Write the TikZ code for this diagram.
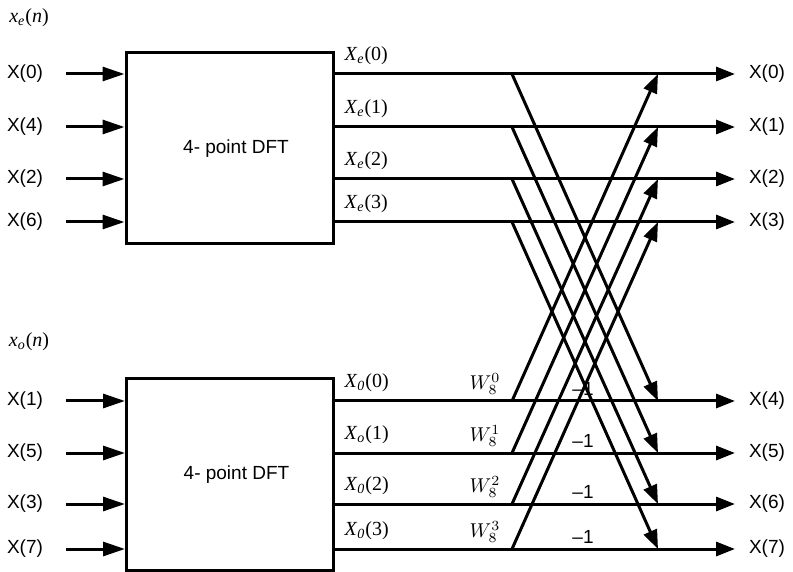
\documentclass[tikz,border=0pt]{standalone}
\usepackage{fontspec}
\setmainfont{Liberation Serif}
\setsansfont{Liberation Sans}
\usetikzlibrary{arrows.meta}
\newcommand{\xlab}[3]{\textit{#1}\textsubscript{\textit{#2}}(#3)}
\newcommand{\wlab}[1]{$W_{8}^{#1}$}

\begin{document}
\begin{tikzpicture}[x=0.5pt,y=-0.5pt,line width=1.5pt,
    arr/.style={-{Triangle[length=9.5pt,width=7pt]}},
    inarr/.style={-{Triangle[length=11pt,width=7pt]}},
    dftbox/.style={draw,minimum width=103.5pt,minimum height=95.5pt,
      font=\sffamily\fontsize{9.5}{11}\selectfont},
    sig/.style={font=\sffamily\fontsize{9.5}{11}\selectfont},
    lab/.style={font=\fontsize{10}{12}\selectfont,inner sep=1pt}]
  \useasboundingbox (0,0) rectangle (793,572);

  \node[dftbox] (dft1) at (229.5,148.5) {\hspace{6.5pt}4- point DFT};
  \node[dftbox] (dft2) at (230,474.5) {\hspace{6.5pt}4- point DFT};
  \node[lab] (xe) at (29,18) {\xlab{x}{e}{\textit{n}}};
  \node[lab] (xo) at (29,342) {\xlab{x}{o}{\textit{n}}};

  % even half
  \foreach \i/\y/\n in {0/74/0,1/127/4,2/179/2,3/222/6}{
    \node[sig] (ine\i) at (25,\y) {X(\n)};
    \coordinate (se\i) at (66,\y);
    \draw[inarr] (se\i) -- (se\i -| dft1.west);
    \coordinate (be\i) at (512,\y);
    \coordinate (ee\i) at (658,\y);
    \coordinate (te\i) at (735,\y);
    \draw[arr] (se\i -| dft1.east) -- (te\i);
    \node[sig] (oute\i) at (767,\y) {X(\i)};
  }
  \node[lab,anchor=south west] (le0) at (341,68) {\xlab{X}{e}{0}};
  \node[lab,anchor=south west] (le1) at (341,121) {\xlab{X}{e}{1}};
  \node[lab,anchor=south west] (le2) at (341,173) {\xlab{X}{e}{2}};
  \node[lab,anchor=south west] (le3) at (341,216) {\xlab{X}{e}{3}};

  % odd half
  \foreach \i/\y/\n/\k in {0/401/1/4,1/453/5/5,2/504/3/6,3/549/7/7}{
    \node[sig] (ino\i) at (25,\y) {X(\n)};
    \coordinate (so\i) at (66,\y);
    \draw[inarr] (so\i) -- (so\i -| dft2.west);
    \coordinate (bo\i) at (512,\y);
    \coordinate (eo\i) at (658,\y);
    \coordinate (to\i) at (735,\y);
    \draw[arr] (so\i -| dft2.east) -- (to\i);
    \node[sig] (outo\i) at (767,\y) {X(\k)};
    \node[lab] (w\i) at (485,\y-17) {\wlab{\i}};
    \node[sig] (m\i) at (583,\y-12) {–1};
  }
  \node[lab,anchor=south west] (lo0) at (341,395) {\xlab{X}{0}{0}};
  \node[lab,anchor=south west] (lo1) at (341,447) {\xlab{X}{o}{1}};
  \node[lab,anchor=south west] (lo2) at (341,498) {\xlab{X}{0}{2}};
  \node[lab,anchor=south west] (lo3) at (341,543) {\xlab{X}{0}{3}};

  % butterflies
  \foreach \i in {0,...,3}{
    \draw[arr] (be\i) -- (eo\i);
    \draw[arr] (bo\i) -- (ee\i);
  }
\end{tikzpicture}
\end{document}
